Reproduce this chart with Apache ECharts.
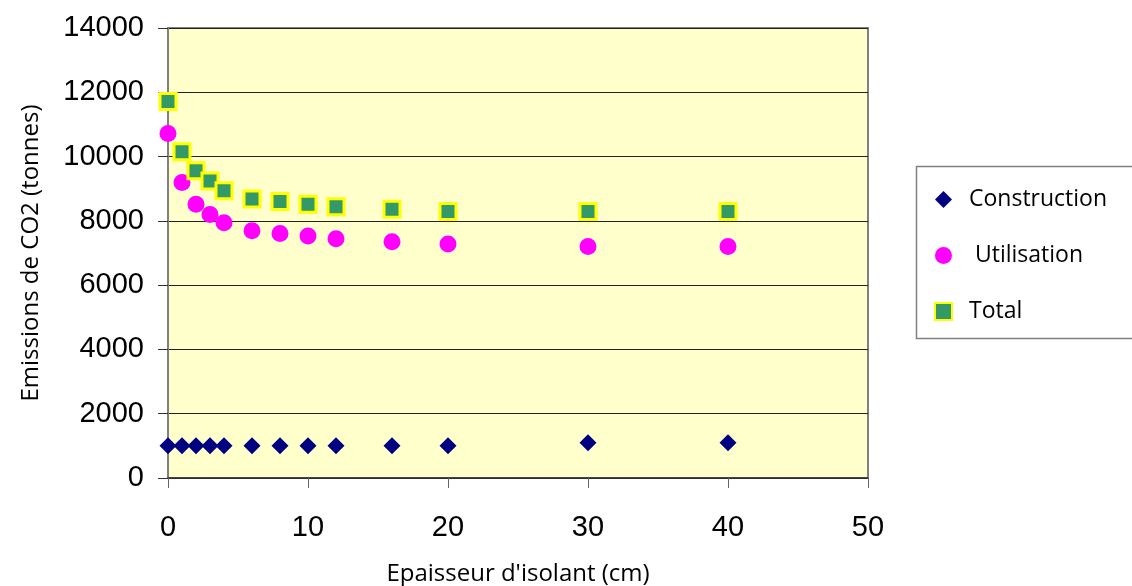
<!DOCTYPE html>
<html>
<head>
<meta charset="utf-8">
<style>html,body{margin:0;padding:0;background:#fff;}#c{width:1132px;height:586px;}</style>
<script src="https://cdn.jsdelivr.net/npm/echarts@6/dist/echarts.min.js"></script>
</head>
<body>
<div id="c"></div>
<script>
const thickness = [0, 1, 2, 3, 4, 6, 8, 10, 12, 16, 20, 30, 40];
const construction = [1000, 1000, 1000, 1000, 1000, 1000, 1000, 1000, 1000, 1000, 1000, 1100, 1100];
const utilisation = [10720, 9190, 8520, 8200, 7940, 7690, 7610, 7530, 7440, 7350, 7280, 7200, 7200];
const total = [11710, 10150, 9560, 9240, 8940, 8680, 8600, 8520, 8440, 8360, 8290, 8290, 8290];
const xTicks = [0, 10, 20, 30, 40, 50];
const yTicks = [0, 2000, 4000, 6000, 8000, 10000, 12000, 14000];

const pair = (vals) => thickness.map((x, i) => [x, vals[i]]);

const chart = echarts.init(document.getElementById('c'), null, {renderer: 'canvas'});
chart.setOption({
  backgroundColor: '#ffffff',
  animation: false,
  grid: {
    left: 168, right: 264, top: 28, bottom: 108,
    outerBoundsMode: 'none', containLabel: false,
    show: true, backgroundColor: '#FFFFCC', borderColor: '#808080', borderWidth: 2
  },
  graphic: [{
    type: 'rect', z: 0,
    shape: {x: 916.5, y: 166.5, width: 230, height: 172},
    style: {fill: '#ffffff', stroke: '#808080', lineWidth: 1.5}
  }],
  legend: {
    orient: 'vertical', left: 929, top: 183, itemGap: 33,
    itemWidth: 17, itemHeight: 17,
    data: ['Construction', 'Utilisation', 'Total'],
    formatter: n => n === 'Utilisation' ? ' ' + n : n,
    textStyle: {fontFamily: 'Open Sans', fontSize: 23, color: '#000', padding: [0, 0, 0, 12]}
  },
  xAxis: {
    type: 'value', min: xTicks[0], max: xTicks[xTicks.length - 1], interval: 10,
    name: "Epaisseur d'isolant (cm)", nameLocation: 'middle', nameGap: 84,
    nameTextStyle: {fontFamily: 'Open Sans', fontSize: 24, color: '#000', verticalAlign: 'top'},
    axisLine: {show: true, onZero: false, lineStyle: {color: '#333', width: 1.5}},
    axisTick: {show: true, length: 10, lineStyle: {color: '#666', width: 1}},
    axisLabel: {fontFamily: 'Liberation Sans', fontSize: 29, color: '#000', margin: 35},
    splitLine: {show: false}
  },
  yAxis: {
    type: 'value', min: yTicks[0], max: yTicks[yTicks.length - 1], interval: 2000,
    name: 'Emissions de CO2 (tonnes)', nameLocation: 'middle', nameGap: 125,
    nameTextStyle: {fontFamily: 'Open Sans', fontSize: 24, color: '#000'},
    axisLine: {show: true, lineStyle: {color: '#808080', width: 2}},
    axisTick: {show: true, length: 10, lineStyle: {color: '#333', width: 1}},
    axisLabel: {fontFamily: 'Liberation Sans', fontSize: 29, color: '#000', margin: 24, formatter: v => String(v)},
    splitLine: {show: true, lineStyle: {color: '#222', width: 1}}
  },
  series: [
    {
      name: 'Construction', type: 'scatter', symbol: 'diamond', symbolSize: 17,
      itemStyle: {color: '#000080', opacity: 1},
      data: pair(construction), z: 3
    },
    {
      name: 'Utilisation', type: 'scatter', symbol: 'circle', symbolSize: 17,
      itemStyle: {color: '#FF00FF', opacity: 1},
      data: pair(utilisation), z: 3
    },
    {
      name: 'Total', type: 'scatter', symbol: 'rect', symbolSize: 16,
      itemStyle: {color: '#339966', borderColor: '#FFFF00', borderWidth: 3, opacity: 1},
      data: pair(total), z: 4
    }
  ]
});
</script>
</body>
</html>
